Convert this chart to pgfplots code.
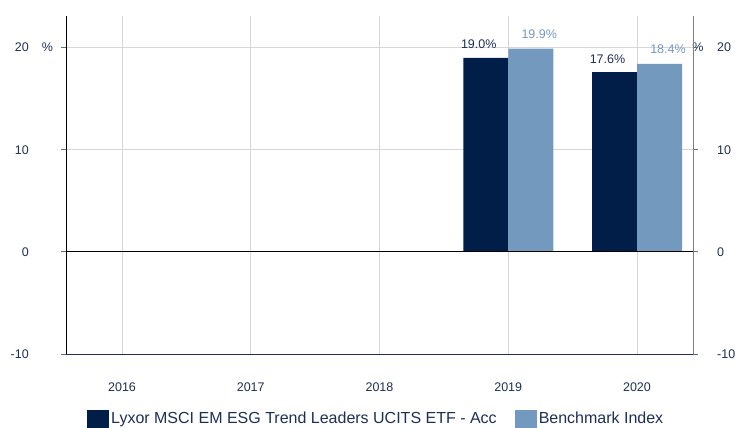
\documentclass[border=0pt]{standalone}
\usepackage{pgfplots}
\pgfplotsset{compat=1.18}
\usepackage{fontspec}
\setmainfont{Liberation Sans}
\definecolor{navy}{HTML}{001E47}
\definecolor{lblue}{HTML}{7399BF}
\definecolor{txt}{HTML}{1E2F55}
\definecolor{tickc}{HTML}{5A6E90}
\definecolor{gridc}{HTML}{D6D6D6}
\begin{document}
\begin{tikzpicture}
\path[use as bounding box] (-66pt,-74pt) rectangle (670pt,354pt);
\begin{axis}[
  name=ax, at={(0pt,0pt)}, anchor=south west,
  scale only axis, width=627pt, height=338pt,
  xmin=-0.435, xmax=4.435, ymin=-10, ymax=23.1,
  axis x line*=bottom, axis y line*=left,
  x axis line style={draw=txt, line width=0.9pt},
  y axis line style={draw=black, line width=0.9pt},
  xtick={0,1,2,3,4}, xticklabels={2016,2017,2018,2019,2020},
  ytick={-10,0,10,20},
  xmajorgrids, ymajorgrids,
  major grid style={draw=gridc, line width=0.9pt},
  xtick style={draw=none},
  ytick style={draw=tickc, line width=0.9pt},
  tick align=outside, major tick length=5pt,
  ticklabel style={font=\fontsize{12.5}{15}\selectfont, text=txt},
  yticklabel style={anchor=east, inner sep=0pt, xshift=-32pt},
  xticklabel style={anchor=base, inner sep=0pt, yshift=-32pt},
  /pgf/number format/assume math mode=true,
  ybar, bar width=45pt,
  clip=false,
  legend style={at={(0.0335,-0.192)}, anchor=west, draw=none, fill=none,
    legend columns=2, font=\fontsize{16}{19}\selectfont, text=txt,
    inner sep=0pt, /tikz/every even column/.append style={column sep=16pt}},
  legend image code/.code={\fill[#1] (0pt,-9pt) rectangle (22pt,9pt);},
]
\addplot[ybar, bar shift=-22.5pt, fill=navy, draw=none,
  nodes near coords={\pgfmathprintnumber[fixed, fixed zerofill, precision=1]{\pgfplotspointmeta}\%},
  every node near coord/.append style={anchor=base, inner sep=0pt, yshift=9pt, xshift=-7pt,
    font=\fontsize{12.5}{15}\selectfont, text=txt}]
  coordinates {(3,19.0) (4,17.6)};
\addlegendentry{Lyxor MSCI EM ESG Trend Leaders UCITS ETF - Acc}
\addplot[ybar, bar shift=22.5pt, fill=lblue, draw=none,
  nodes near coords={\pgfmathprintnumber[fixed, fixed zerofill, precision=1]{\pgfplotspointmeta}\%},
  every node near coord/.append style={anchor=base, inner sep=0pt, yshift=10pt, xshift=8.5pt,
    font=\fontsize{12.5}{15}\selectfont, text=lblue}]
  coordinates {(3,19.9) (4,18.4)};
\addlegendentry{Benchmark Index}
\draw[black, line width=0.9pt] (axis cs:-0.435,0) -- (axis cs:4.435,0);
\node[font=\fontsize{12.5}{15}\selectfont, text=txt] at ([xshift=-18.5pt]axis cs:-0.435,20) {\%};
\node[font=\fontsize{12.5}{15}\selectfont, text=txt] at ([xshift=5pt]axis cs:4.435,20) {\%};
\end{axis}
\begin{axis}[
  at={(0pt,0pt)}, anchor=south west,
  scale only axis, width=627pt, height=338pt,
  xmin=-0.435, xmax=4.435, ymin=-10, ymax=23.1,
  axis x line=none, axis y line*=right,
  y axis line style={draw=gray, line width=0.9pt},
  ytick={-10,0,10,20},
  ytick style={draw=tickc, line width=0.9pt},
  tick align=outside, major tick length=5pt,
  ticklabel style={font=\fontsize{12.5}{15}\selectfont, text=txt},
  yticklabel style={anchor=west, inner sep=0pt, xshift=19pt},
  /pgf/number format/assume math mode=true,
]
\end{axis}
\end{tikzpicture}
\end{document}
